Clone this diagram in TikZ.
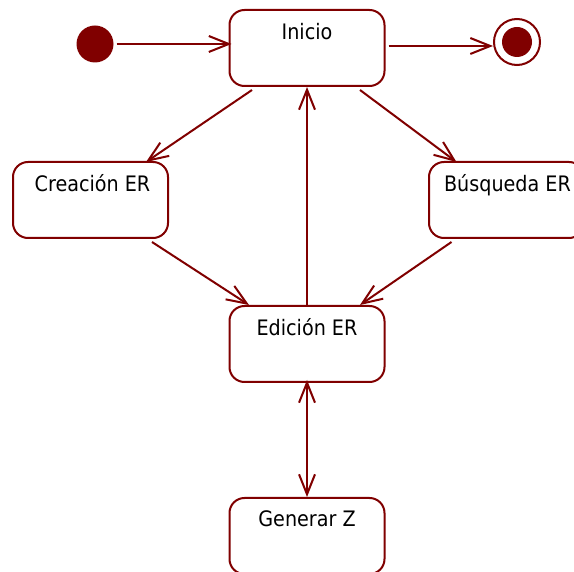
\documentclass[tikz,border=0pt]{standalone}
\usepackage{fontspec}
\setmainfont{DejaVu Sans Condensed}
\usetikzlibrary{arrows.meta}
\definecolor{umlred}{HTML}{800000}
\begin{document}
\begin{tikzpicture}[x=1pt,y=-1pt,
  statebox/.style={draw=umlred, line width=2pt, rounded corners=15pt, fill=white,
    minimum width=155pt, minimum height=76pt, inner sep=0pt},
  statetext/.style={anchor=base, font=\fontsize{21.3}{25}\selectfont, text=black, inner sep=0pt},
  flow/.style={draw=umlred, line width=2pt,
    -{Straight Barb[length=20pt,width=16pt,line width=2pt]}},
  twoway/.style={draw=umlred, line width=2pt,
    {Straight Barb[length=20pt,width=16pt,line width=2pt]}-{Straight Barb[length=20pt,width=16pt,line width=2pt]}}
]
\useasboundingbox (0,0) rectangle (574,572);
\begin{scope}
\clip (0,0) rectangle (574,572);

% states
\node[statebox] (ini) at (307,48) {};
\node[statetext] (iniT) at (307,40) {Inicio};
\node[statebox] (cre) at (90.5,200) {};
\node[statetext] (creT) at (92.5,191.5) {Creación ER};
\node[statebox] (bus) at (506.5,200) {};
\node[statetext] (busT) at (507.5,191.5) {Búsqueda ER};
\node[statebox] (edi) at (307,344) {};
\node[statetext] (ediT) at (307,335.5) {Edición ER};
\node[statebox] (gen) at (307,536) {};
\node[statetext] (genT) at (307,527) {Generar Z};

% pseudo-states
\node[circle, fill=umlred, minimum size=37pt, inner sep=0pt] (start) at (95,44) {};
\node[circle, draw=umlred, line width=2pt, fill=white, minimum size=46pt, inner sep=0pt] (fin) at (517,42) {};
\node[circle, fill=umlred, minimum size=30pt, inner sep=0pt] (finDot) at (517,42) {};

% transitions
\draw[flow] ([xshift=3pt]start.east) -- ([xshift=3pt]start.east -| ini.west);
\draw[flow] ([shift={(3,-2)}]ini.east) coordinate (outA) -- (outA -| fin.west);
\draw[flow] ([shift={(-55,3)}]ini.south) -- ([shift={(55.5,1)}]cre.north);
\draw[flow] ([shift={(53,3)}]ini.south) -- ([shift={(-50,1)}]bus.north);
\draw[flow] ([shift={(61.5,3)}]cre.south) -- ([shift={(-58,0)}]edi.north);
\draw[flow] ([shift={(-55,3)}]bus.south) -- ([shift={(53,0)}]edi.north);
\draw[flow] (edi.north) -- (ini.south);
\draw[twoway] ([yshift=3]edi.south) -- (gen.north);
\end{scope}
\end{tikzpicture}
\end{document}
